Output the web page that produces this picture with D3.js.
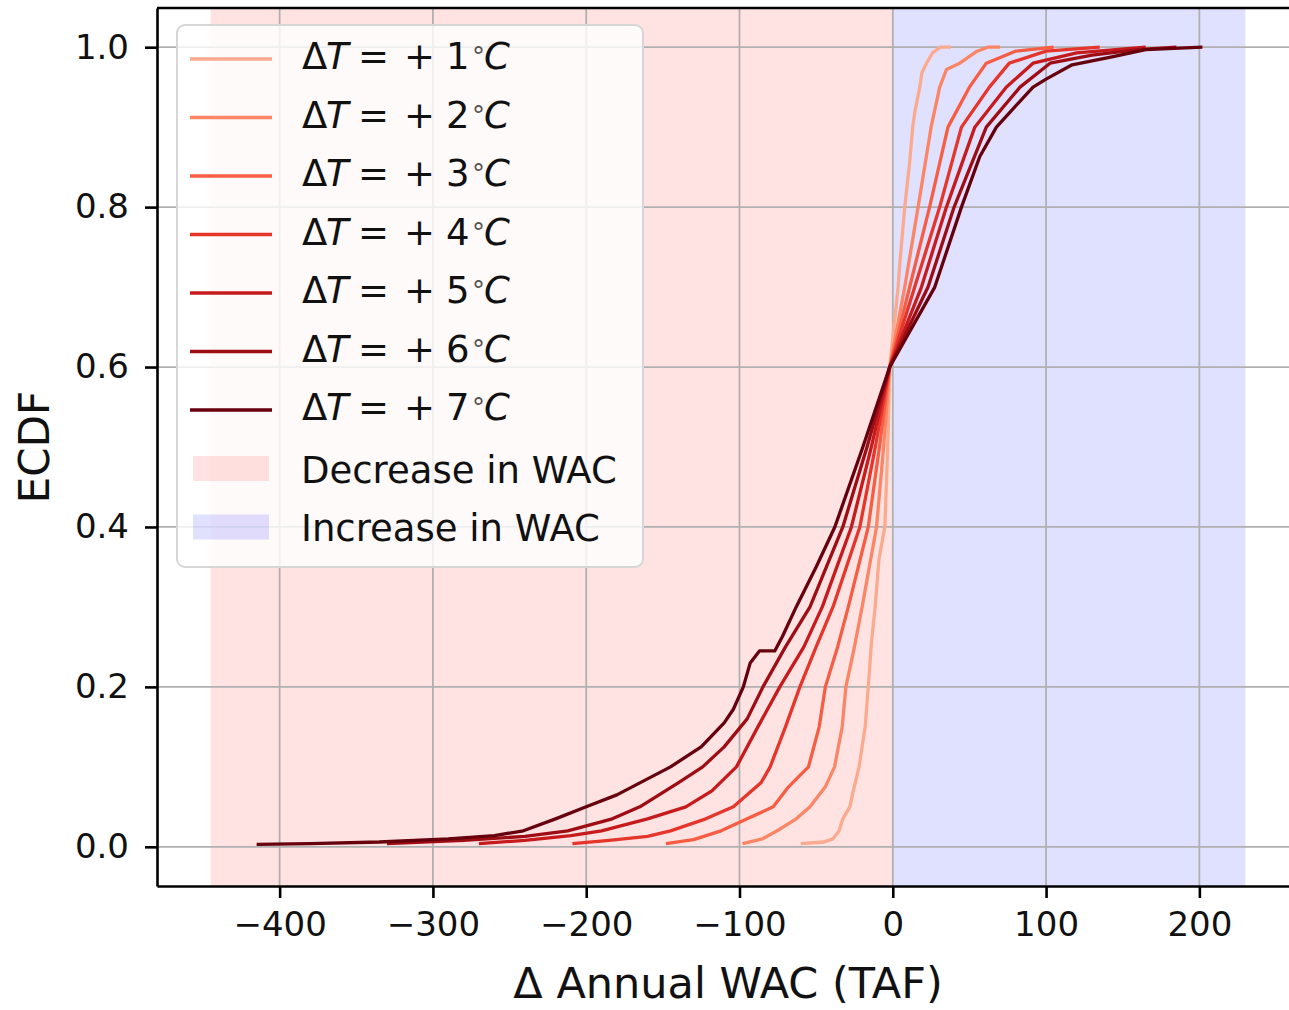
<!DOCTYPE html>
<html>
<head>
<meta charset="utf-8">
<script src="https://cdn.jsdelivr.net/npm/d3@7"></script>
<style>
  body { margin: 0; background: #fff; }
  svg { display: block; font-family: "DejaVu Sans", sans-serif; }
</style>
</head>
<body>
<div id="chart"></div>
<script>
// warming scenarios (+°C)
const temps = [1, 2, 3, 4, 5, 6, 7];

// ECDF curves: [delta WAC (TAF), ECDF]
const ecdfT1 = [[-60, 0.004], [-45, 0.006], [-39, 0.01], [-35, 0.02], [-32.6, 0.035], [-28, 0.05], [-26, 0.068],
  [-22, 0.1], [-18, 0.15], [-16, 0.2], [-13.9, 0.256], [-11.5, 0.3], [-9, 0.36], [-5.2, 0.4], [-3.3, 0.5],
  [-2, 0.6], [3.5, 0.7], [4.6, 0.73], [7.8, 0.8], [11, 0.856], [13, 0.9], [14.3, 0.918], [17.6, 0.95],
  [19, 0.968], [22, 0.98], [26, 0.993], [31, 1.0], [38, 1.0]];
const ecdfT2 = [[-98, 0.004], [-85, 0.01], [-73.7, 0.022], [-63, 0.035], [-54, 0.05], [-44, 0.075], [-38, 0.1],
  [-33, 0.15], [-30.6, 0.2], [-25, 0.25], [-20, 0.3], [-10.6, 0.4], [-6, 0.5], [-2, 0.6], [7.8, 0.7],
  [16.5, 0.8], [25, 0.9], [30.6, 0.95], [35, 0.972], [43.7, 0.98], [55, 0.995], [62, 1.0], [70, 1.0]];
const ecdfT3 = [[-148, 0.004], [-130, 0.009], [-112, 0.02], [-95, 0.035], [-78, 0.05], [-68, 0.075], [-55, 0.1],
  [-48, 0.15], [-44, 0.2], [-36, 0.25], [-29, 0.3], [-16, 0.4], [-8.7, 0.5], [-2, 0.6], [11, 0.7], [24, 0.8],
  [36, 0.9], [50, 0.95], [61, 0.98], [80, 0.995], [105, 1.0]];
const ecdfT4 = [[-209, 0.004], [-185, 0.008], [-160, 0.013], [-145, 0.02], [-122, 0.035], [-104, 0.05],
  [-86, 0.08], [-80, 0.1], [-70, 0.15], [-60.6, 0.2], [-50, 0.25], [-39, 0.3], [-21.5, 0.4], [-11.4, 0.5],
  [-2, 0.6], [14.3, 0.7], [30.6, 0.8], [44.8, 0.9], [63, 0.95], [76, 0.98], [100, 0.995], [135, 1.0]];
const ecdfT5 = [[-270, 0.004], [-240, 0.008], [-210, 0.014], [-190, 0.02], [-160, 0.035], [-135, 0.05],
  [-118, 0.07], [-102, 0.1], [-88, 0.15], [-73.7, 0.2], [-58, 0.25], [-46, 0.3], [-27, 0.4], [-14, 0.5],
  [-2, 0.6], [18.7, 0.7], [35, 0.8], [53.5, 0.9], [74, 0.95], [91.5, 0.98], [120, 0.993], [165, 1.0]];
const ecdfT6 = [[-330, 0.004], [-280, 0.008], [-240, 0.013], [-212, 0.02], [-183, 0.035], [-165, 0.05],
  [-140, 0.08], [-124, 0.1], [-110, 0.125], [-95, 0.16], [-84.7, 0.2], [-70, 0.25], [-54, 0.3], [-32.6, 0.4],
  [-16.8, 0.5], [-2, 0.6], [23, 0.7], [40, 0.8], [61, 0.9], [83, 0.95], [102.6, 0.98], [130, 0.99],
  [160, 0.997], [185, 1.0]];
const ecdfT7 = [[-415, 0.003], [-380, 0.004], [-335, 0.006], [-290, 0.01], [-260, 0.014], [-241, 0.02],
  [-220, 0.035], [-200, 0.05], [-180, 0.065], [-160, 0.085], [-145, 0.1], [-125, 0.125], [-110, 0.155],
  [-104, 0.172], [-97.5, 0.2], [-93, 0.23], [-87, 0.245], [-77, 0.245], [-72, 0.263], [-63, 0.3], [-50, 0.35],
  [-37.8, 0.4], [-19.5, 0.5], [-2, 0.6], [27.4, 0.7], [44.8, 0.8], [56.7, 0.863], [67.6, 0.9], [78, 0.922],
  [91.5, 0.95], [100, 0.96], [117, 0.978], [143, 0.988], [165, 0.997], [202, 1.0]];
const curves = [ecdfT1, ecdfT2, ecdfT3, ecdfT4, ecdfT5, ecdfT6, ecdfT7];

// shaded spans
const decreaseSpan = [-445, 0];
const increaseSpan = [0, 230];

const xTicks = [-400, -300, -200, -100, 0, 100, 200];
const yTicks = [0, 0.2, 0.4, 0.6, 0.8, 1.0];

const margin = { top: 8, right: -10, bottom: 124, left: 157 },
  width = 1289 - margin.left - margin.right,
  height = 1010 - margin.top - margin.bottom;

const svgRoot = d3.select("#chart")
  .append("svg")
  .attr("width", 1289)
  .attr("height", 1010);

const svg = svgRoot.append("g")
  .attr("transform", `translate(${margin.left}, ${margin.top})`);

const x = d3.scaleLinear().domain([-480, 265]).range([0, width]);
const y = d3.scaleLinear().domain([-0.049, 1.049]).range([height, 0]);

const colorT = (i) => d3.interpolateReds(0.3 + (0.7 * i) / (temps.length - 1));

// spans
svg.append("rect")
  .attr("x", x(decreaseSpan[0]))
  .attr("y", 0)
  .attr("width", x(decreaseSpan[1]) - x(decreaseSpan[0]))
  .attr("height", height)
  .attr("fill", "red")
  .attr("fill-opacity", 0.11);
svg.append("rect")
  .attr("x", x(increaseSpan[0]))
  .attr("y", 0)
  .attr("width", x(increaseSpan[1]) - x(increaseSpan[0]))
  .attr("height", height)
  .attr("fill", "blue")
  .attr("fill-opacity", 0.12);

// grid
svg.append("g")
  .selectAll("line")
  .data(xTicks)
  .join("line")
  .attr("x1", (d) => x(d)).attr("x2", (d) => x(d))
  .attr("y1", 0).attr("y2", height)
  .attr("stroke", "#b0b0b0").attr("stroke-width", 1.8);
svg.append("g")
  .selectAll("line")
  .data(yTicks)
  .join("line")
  .attr("y1", (d) => y(d)).attr("y2", (d) => y(d))
  .attr("x1", 0).attr("x2", width)
  .attr("stroke", "#b0b0b0").attr("stroke-width", 1.8);

// curves
const line = d3.line().x((d) => x(d[0])).y((d) => y(d[1]));
svg.append("g")
  .selectAll("path")
  .data(curves)
  .join("path")
  .attr("d", line)
  .attr("fill", "none")
  .attr("stroke", (d, i) => colorT(i))
  .attr("stroke-width", 3.3)
  .attr("stroke-linejoin", "round");

// axes
const xAxis = svg.append("g")
  .attr("transform", `translate(0, ${height})`)
  .call(d3.axisBottom(x).tickValues(xTicks).tickSize(12).tickSizeOuter(0).tickPadding(14));
const yAxis = svg.append("g")
  .call(d3.axisLeft(y).tickValues(yTicks).tickFormat(d3.format(".1f")).tickSize(12).tickSizeOuter(0).tickPadding(16));
[xAxis, yAxis].forEach((a) => {
  a.attr("font-family", "DejaVu Sans").attr("font-size", 34);
  a.selectAll("text").attr("fill", "#111");
  a.selectAll("line").attr("stroke", "#000").attr("stroke-width", 2.6);
  a.select(".domain").attr("stroke", "#000").attr("stroke-width", 2.6);
});
svg.append("line")
  .attr("x1", 0).attr("x2", width)
  .attr("y1", 0).attr("y2", 0)
  .attr("stroke", "#000").attr("stroke-width", 2.6);

svgRoot.append("text")
  .attr("text-anchor", "middle")
  .attr("x", margin.left + x(-107.5))
  .attr("y", 998)
  .attr("font-size", 43)
  .attr("fill", "#111")
  .text("\u0394 Annual WAC (TAF)");
svgRoot.append("text")
  .attr("text-anchor", "middle")
  .attr("transform", "rotate(-90)")
  .attr("x", -(margin.top + height / 2))
  .attr("y", 49)
  .attr("font-size", 42)
  .attr("fill", "#111")
  .text("ECDF");

// legend
const legend = svgRoot.append("g");
legend.append("rect")
  .attr("x", 177).attr("y", 25)
  .attr("width", 466).attr("height", 542)
  .attr("rx", 8)
  .attr("fill", "#fff").attr("fill-opacity", 0.8)
  .attr("stroke", "#d6d6d6").attr("stroke-width", 2);

const rowY = (i) => 59 + 58.5 * i;
temps.forEach((t, i) => {
  const cy = rowY(i);
  legend.append("line")
    .attr("x1", 190).attr("x2", 272)
    .attr("y1", cy).attr("y2", cy)
    .attr("stroke", colorT(i)).attr("stroke-width", 3.3);
  const txt = legend.append("text")
    .attr("y", cy + 10)
    .attr("font-size", 37)
    .attr("fill", "#111");
  txt.append("tspan").attr("x", 302).text("\u0394");
  txt.append("tspan").attr("x", 326).attr("font-style", "italic").text("T");
  txt.append("tspan").attr("x", 358).text("=");
  txt.append("tspan").attr("x", 404).text("+");
  txt.append("tspan").attr("x", 446).text(String(t));
  txt.append("tspan").attr("x", 472).attr("dy", -3).attr("font-size", 26).attr("fill", "#555").text("\u00b0");
  txt.append("tspan").attr("x", 484).attr("dy", 3).attr("font-style", "italic").text("C");
});

const patches = [
  { label: "Decrease in WAC", fill: "red", op: 0.11 },
  { label: "Increase in WAC", fill: "blue", op: 0.12 }
];
patches.forEach((p, k) => {
  const cy = rowY(temps.length + k);
  legend.append("rect")
    .attr("x", 193).attr("y", cy - 12.5)
    .attr("width", 76).attr("height", 25)
    .attr("fill", p.fill).attr("fill-opacity", p.op);
  legend.append("text")
    .attr("x", 301).attr("y", cy + 14)
    .attr("font-size", 37)
    .attr("fill", "#111")
    .text(p.label);
});
</script>
</body>
</html>
